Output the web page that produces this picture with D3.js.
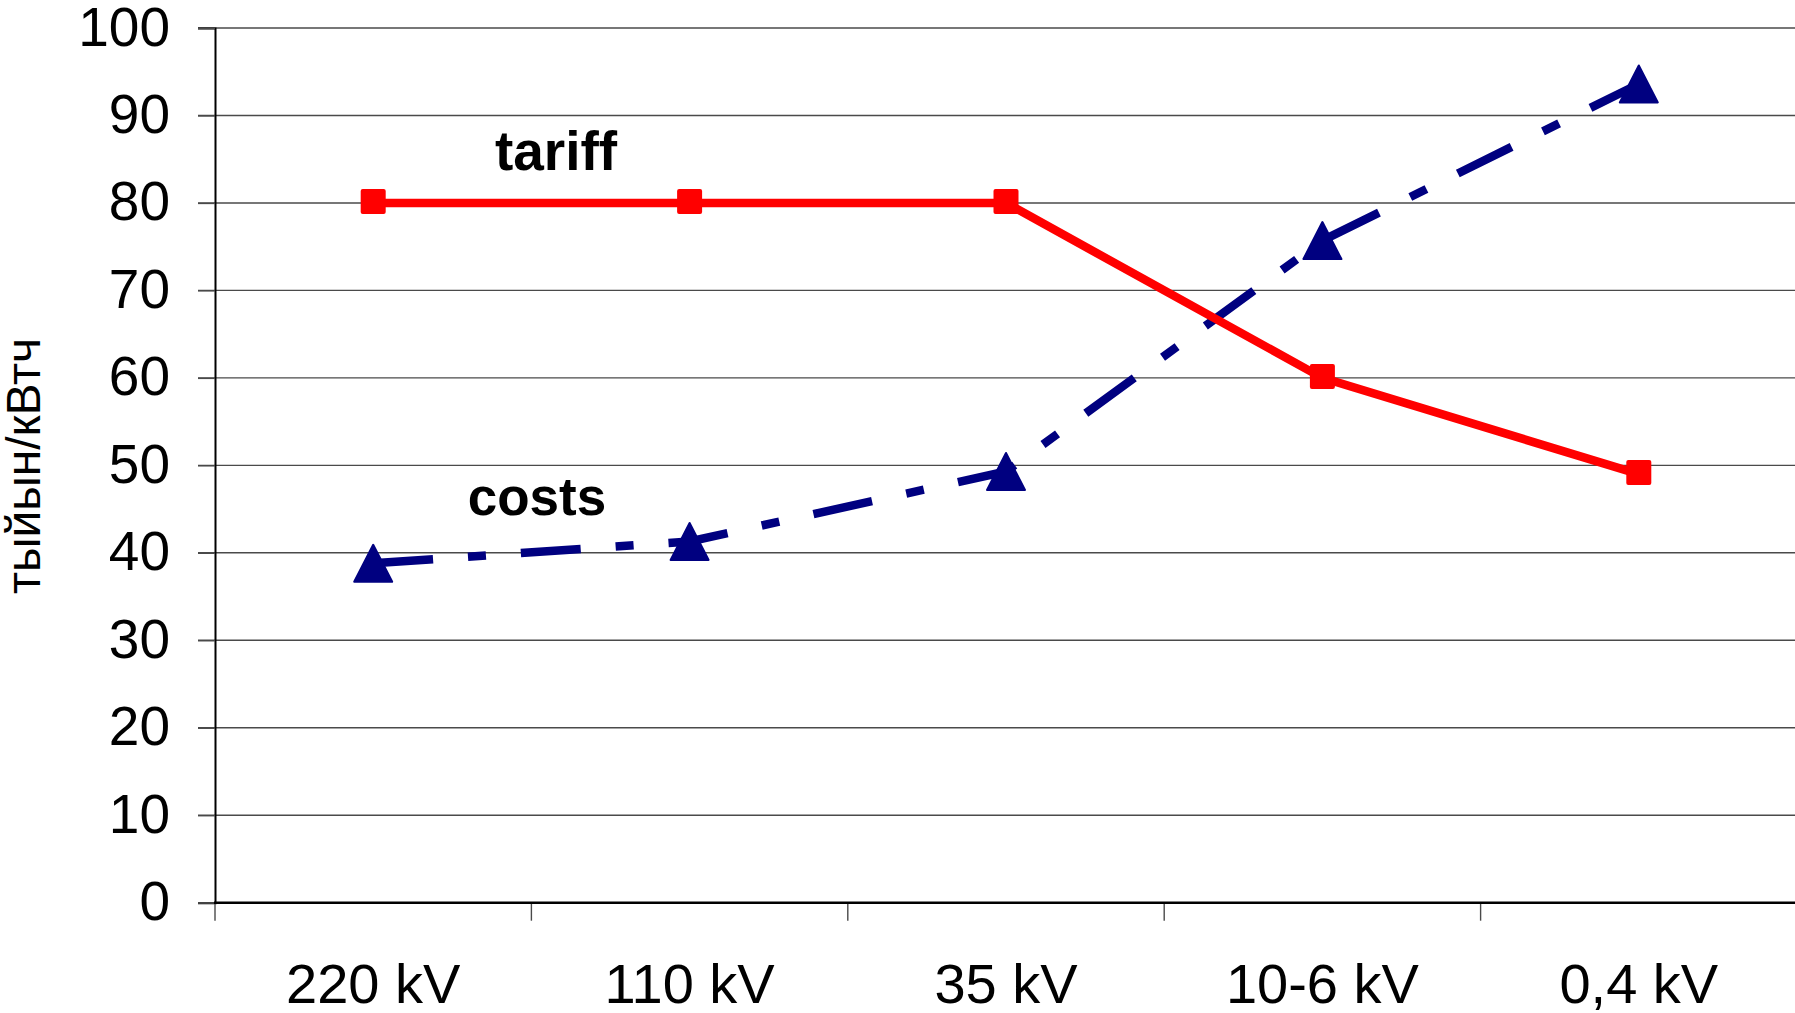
<!DOCTYPE html>
<html>
<head>
<meta charset="utf-8">
<script src="https://cdn.jsdelivr.net/npm/d3@7"></script>
<style>
  html, body { margin: 0; padding: 0; background: #fff; }
  svg { display: block; font-family: "Liberation Sans", Arial, sans-serif; }
</style>
</head>
<body>
<svg id="chart" width="1795" height="1013"></svg>
<script>
const categories = ["220 kV", "110 kV", "35 kV", "10-6 kV", "0,4 kV"];
const tariff = [80, 80, 80, 60, 49];
const costs = [38.8, 41.3, 49.3, 75.7, 93.6];
const yTicks = [0, 10, 20, 30, 40, 50, 60, 70, 80, 90, 100];
const yTitle = "тыйын/кВтч";
const seriesLabels = ["tariff", "costs"];

(function () {
const svg = d3.select("#chart");
const W = 1795, H = 1013;
const pLeft = 215, pRight = 1797, pTop = 28, pBottom = 902.7;

const x = d3.scaleBand().domain(categories).range([pLeft, pRight]).padding(0);
const y = d3.scaleLinear().domain([0, 100]).range([pBottom, pTop]);
const cx = d => x(d) + x.bandwidth() / 2;

// gridlines
svg.append("g").selectAll("line").data(yTicks.filter(v => v > 0)).join("line")
  .attr("x1", pLeft - 17).attr("x2", W)
  .attr("y1", d => y(d)).attr("y2", d => y(d))
  .attr("stroke", "#4a4a4a").attr("stroke-width", 1.4);

// y axis
const yAxis = svg.append("g").attr("transform", `translate(${pLeft},0)`)
  .call(d3.axisLeft(y).tickValues(yTicks).tickSize(17).tickPadding(28).tickFormat(d3.format("d")));
yAxis.select(".domain").attr("stroke", "#000").attr("stroke-width", 2);
yAxis.selectAll(".tick line").attr("stroke", "#4a4a4a").attr("stroke-width", 1.4);
yAxis.selectAll(".tick text")
  .attr("font-size", 55).attr("fill", "#000")
  .attr("font-family", "Liberation Sans, Arial, sans-serif")
  .attr("dy", 17).attr("x", -45);

// x axis
const xAxis = svg.append("g").attr("transform", `translate(0,${pBottom})`)
  .call(d3.axisBottom(x).tickSize(0).tickPadding(100));
xAxis.select(".domain").remove();
xAxis.selectAll(".tick text")
  .attr("font-size", 56).attr("fill", "#000")
  .attr("font-family", "Liberation Sans, Arial, sans-serif")
  .attr("y", 0).attr("dy", 100);
// boundary ticks between categories
svg.append("g").selectAll("line").data(categories).join("line")
  .attr("x1", d => x(d)).attr("x2", d => x(d))
  .attr("y1", pBottom).attr("y2", pBottom + 18)
  .attr("stroke", "#4a4a4a").attr("stroke-width", 1.4);
svg.append("line").attr("x1", pLeft - 1).attr("x2", W)
  .attr("y1", pBottom).attr("y2", pBottom)
  .attr("stroke", "#000").attr("stroke-width", 2.5);

// y title
svg.append("text")
  .attr("transform", `translate(40,466) rotate(-90)`)
  .attr("text-anchor", "middle")
  .attr("font-size", 48).attr("fill", "#000")
  .text(yTitle);

// costs line (dash-dot)
const line = d3.line().x((d, i) => cx(categories[i])).y(d => y(d));
svg.append("path").datum(costs)
  .attr("d", line)
  .attr("fill", "none").attr("stroke", "#000080").attr("stroke-width", 8.5)
  .attr("stroke-dasharray", "60,35,18,35").attr("stroke-linecap", "butt");

// tariff line
svg.append("path").datum(tariff)
  .attr("d", line)
  .attr("fill", "none").attr("stroke", "#ff0000").attr("stroke-width", 8.5)
  .attr("stroke-linejoin", "miter");

// tariff markers
svg.append("g").selectAll("rect").data(tariff).join("rect")
  .attr("x", (d, i) => cx(categories[i]) - 12.5)
  .attr("y", d => y(d) - 14)
  .attr("width", 25).attr("height", 25).attr("rx", 2)
  .attr("fill", "#ff0000");

// costs markers (triangles)
const tw = 38, th = 37;
svg.append("g").selectAll("path").data(costs).join("path")
  .attr("transform", (d, i) => `translate(${cx(categories[i])},${y(d)})`)
  .attr("d", `M0,${-th/2} L${tw/2},${th/2} L${-tw/2},${th/2} Z`)
  .attr("fill", "#000080").attr("stroke", "#000080")
  .attr("stroke-width", 2).attr("stroke-linejoin", "round");

// series labels
svg.append("text").attr("x", 556).attr("y", 170)
  .attr("text-anchor", "middle").attr("font-size", 55).attr("font-weight", "bold")
  .attr("fill", "#000").text(seriesLabels[0]);
svg.append("text").attr("x", 537).attr("y", 515)
  .attr("text-anchor", "middle").attr("font-size", 53).attr("font-weight", "bold")
  .attr("fill", "#000").text(seriesLabels[1]);
})();
</script>
</body>
</html>
